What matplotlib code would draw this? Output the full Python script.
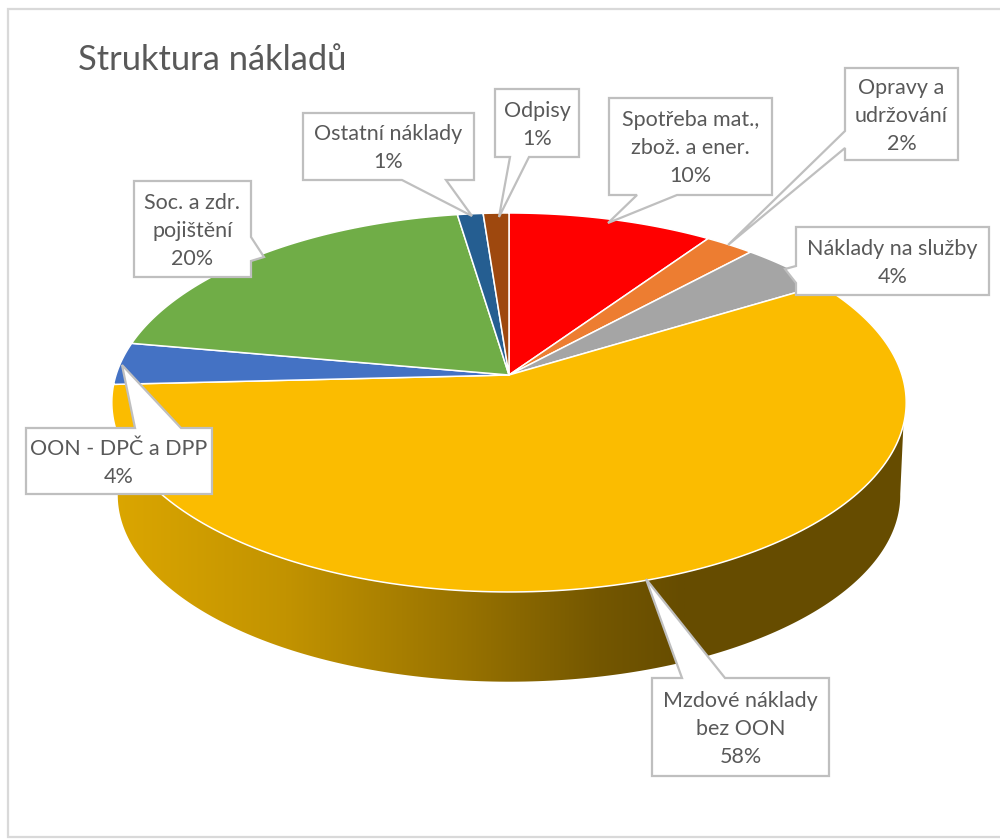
import numpy as np
import matplotlib
matplotlib.use("Agg")
import matplotlib.pyplot as plt
from matplotlib.colors import LinearSegmentedColormap
from matplotlib.patches import Polygon, Rectangle

plt.rcParams['font.family'] = ['Lato', 'DejaVu Sans']

# Data, clockwise from 12 o'clock
categories = ['Spotřeba mat.,\nzbož. a ener.', 'Opravy a\nudržování', 'Náklady na služby',
              'Mzdové náklady\nbez OON', 'OON - DPČ a DPP', 'Soc. a zdr.\npojištění',
              'Ostatní náklady', 'Odpisy']
shares = [9.6, 2.3, 4.4, 57.9, 3.6, 19.8, 1.2, 1.2]
colors = ['#ff0000', '#ed7d31', '#a5a5a5', '#fbbc00', '#4472c4', '#70ad47', '#255e91', '#9e480e']
title = 'Struktura nákladů'

# Callout boxes in pixels: left, top, right, bottom, pointer tip, pointer base
callouts = [
    (609, 98, 772, 195, (608, 223), [(637, 195), (677, 195)]),
    (845, 68, 958, 160, (728, 245), [(845, 131), (845, 148)]),
    (796, 227, 989, 295, (785, 269), [(796, 266), (796, 283)]),
    (652, 678, 829, 776, (646, 579), [(682, 678), (725, 678)]),
    (26, 428, 212, 494, (122, 365), [(135, 428), (181, 428)]),
    (134, 181, 251, 277, (264, 257), [(251, 237), (251, 261)]),
    (303, 113, 474, 180, (472, 216), [(402, 180), (446, 180)]),
    (495, 89, 579, 157, (499, 217), [(510, 157), (529, 157)]),
]

# Pie geometry, a tilted disc seen in perspective
CX, CY = 509, 375
RX, RY = 393, 185.5
K = 0.145
DEPTH_CY = 468
DEPTH_SCALE = 0.985


def rim(theta, cy=CY, scale=1.0):
    # theta in radians, clockwise from the top
    x, y = np.sin(theta), np.cos(theta)
    w = 1 + K * y
    return CX + scale * RX * x / w, cy - scale * RY * y / w


fig = plt.figure(figsize=(10, 8.39), dpi=100)
ax = fig.add_axes([0, 0, 1, 1])
ax.set_xlim(0, 1000)
ax.set_ylim(839, 0)
ax.axis('off')

ax.add_patch(Rectangle((8, 9), 1000, 828, fc='white', ec='#d9d9d9', lw=1.6, zorder=0))

# Side wall with its gradient, from the right silhouette round to the left one
front = np.radians(np.linspace(105, 268, 200))
up_x, up_y = rim(front)
low_front = np.radians(np.linspace(262, 98, 200))
low_x, low_y = rim(low_front, DEPTH_CY, DEPTH_SCALE)
wall = Polygon(np.column_stack([np.r_[up_x, low_x], np.r_[up_y, low_y]]),
               closed=True, fc='none', ec='none', transform=ax.transData)
ax.add_patch(wall)
wall_cmap = LinearSegmentedColormap.from_list(
    'wall', [(0, '#dba600'), (0.3, '#c29300'), (0.6, '#9a7400'), (0.85, '#745700'), (1, '#664c00')])
grad = np.linspace(0, 1, 256).reshape(1, -1)
im = ax.imshow(grad, cmap=wall_cmap, extent=(115, 685, 700, 400), aspect='auto', zorder=1)
ax.set_xlim(0, 1000)
ax.set_ylim(839, 0)
ax.add_patch(Rectangle((685, 400), 225, 300, fc='#664c00', ec='none', zorder=1, clip_path=wall))
im.set_clip_path(wall)

# Top face
edges = np.r_[0, np.cumsum(shares)] / np.sum(shares) * 2 * np.pi
for start, end, col in zip(edges[:-1], edges[1:], colors):
    th = np.linspace(start, end, 200)
    x, y = rim(th)
    ax.add_patch(Polygon(np.column_stack([np.r_[CX, x], np.r_[CY, y]]), closed=True,
                         fc=col, ec='white', lw=1.1, joinstyle='round', zorder=2))

# Callouts
for cat, share, box in zip(categories, shares, callouts):
    left, top, right, bottom, tip, base = box
    p0, p1 = base
    if p0[1] == top:
        pts = [(left, top), p0, tip, p1, (right, top), (right, bottom), (left, bottom)]
    elif p0[1] == bottom:
        pts = [(left, top), (right, top), (right, bottom), p1, tip, p0, (left, bottom)]
    elif p0[0] == left:
        pts = [(left, top), (right, top), (right, bottom), (left, bottom), p1, tip, p0]
    else:
        pts = [(left, top), (right, top), p0, tip, p1, (right, bottom), (left, bottom)]
    ax.add_patch(Polygon(pts, closed=True, fc='white', ec='#bfbfbf', lw=1.6, zorder=3))
    ax.text((left + right) / 2, (top + bottom) / 2 + 2, f'{cat}\n{round(share)}%', ha='center', va='center',
            fontsize=15.5, color='#595959', linespacing=1.5, zorder=4)

ax.text(78, 70, title, fontsize=24.8, color='#595959', ha='left', va='baseline', zorder=4)

fig.savefig('out.png', dpi=100)
